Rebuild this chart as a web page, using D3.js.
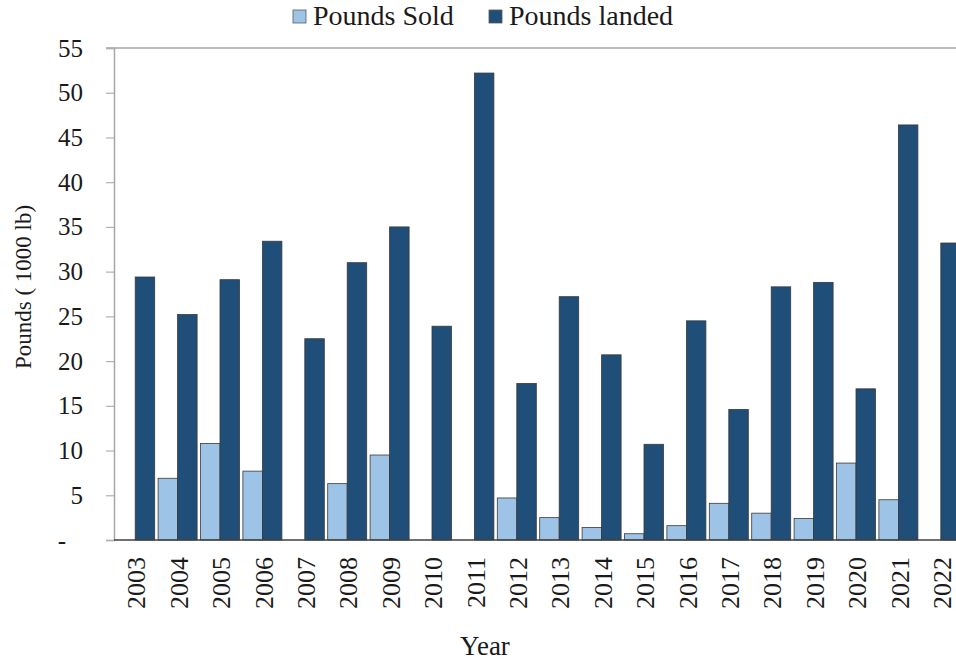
<!DOCTYPE html>
<html>
<head>
<meta charset="utf-8">
<script src="https://cdn.jsdelivr.net/npm/d3@7"></script>
<style>
  html, body { margin: 0; padding: 0; background: #fff; }
  svg { display: block; font-family: "Liberation Serif", "Times New Roman", serif; }
</style>
</head>
<body>
<svg id="chart" width="956" height="663"></svg>
<script>
// Annual pounds sold vs. pounds landed (thousands of lb)
const years = ["2003","2004","2005","2006","2007","2008","2009","2010","2011","2012",
               "2013","2014","2015","2016","2017","2018","2019","2020","2021","2022"];
const poundsSold   = [0, 6.9, 10.8, 7.7, 0, 6.3, 9.5, 0, 0, 4.7,
                      2.5, 1.4, 0.7, 1.6, 4.1, 3.0, 2.4, 8.6, 4.5, 0];
const poundsLanded = [29.4, 25.2, 29.1, 33.4, 22.5, 31.0, 35.0, 23.9, 52.2, 17.5,
                      27.2, 20.7, 10.7, 24.5, 14.6, 28.3, 28.8, 16.9, 46.4, 33.2];
const seriesNames  = ["Pounds Sold", "Pounds landed"];
const seriesColors = ["#9dc3e6", "#1f4e79"];
const yTicks = [0, 5, 10, 15, 20, 25, 30, 35, 40, 45, 50, 55];

const svg = d3.select("#chart");
const plot = { left: 114, top: 48, right: 962, bottom: 540 };

const x = d3.scaleBand()
  .domain(years)
  .range([plot.left, plot.right])
  .paddingInner(0.08)
  .paddingOuter(0.04);

const xSub = d3.scaleBand()
  .domain(seriesNames)
  .range([0, x.bandwidth()])
  .padding(0);

const y = d3.scaleLinear().domain([0, 55]).range([plot.bottom, plot.top]);

// plot frame (top edge)
svg.append("line")
  .attr("x1", plot.left - 8).attr("x2", 956)
  .attr("y1", y(55)).attr("y2", y(55))
  .attr("stroke", "#a6a6a6").attr("stroke-width", 1.5);

// y axis
const yAxis = svg.append("g")
  .attr("transform", `translate(${plot.left},0)`)
  .call(d3.axisLeft(y).tickValues(yTicks).tickSize(8).tickPadding(23)
    .tickFormat(d => d === 0 ? "-" : d));
yAxis.select(".domain").attr("stroke", "#a6a6a6").attr("stroke-width", 1.5);
yAxis.selectAll(".tick line").attr("stroke", "#b0b0b0").attr("stroke-width", 1.2);
yAxis.selectAll(".tick text")
  .attr("font-family", "Liberation Serif, serif")
  .attr("font-size", 25)
  .attr("fill", "#1a1a1a");
yAxis.selectAll(".tick").filter(d => d === 0).select("text").attr("dx", -17);

// bars
const data = years.map((yr, i) => ({ year: yr, values: [poundsSold[i], poundsLanded[i]] }));
const groups = svg.append("g").selectAll("g")
  .data(data).join("g")
  .attr("transform", d => `translate(${x(d.year)},0)`);

groups.selectAll("rect")
  .data(d => d.values.map((v, k) => ({ name: seriesNames[k], value: v, k })))
  .join("rect")
  .filter(d => d.value > 0)
  .attr("x", d => xSub(d.name))
  .attr("width", xSub.bandwidth())
  .attr("y", d => y(d.value))
  .attr("height", d => y(0) - y(d.value))
  .attr("fill", d => seriesColors[d.k])
  .attr("stroke", "#3a3a3a")
  .attr("stroke-width", 0.8);

// x baseline
svg.append("line")
  .attr("x1", plot.left).attr("x2", 956)
  .attr("y1", y(0)).attr("y2", y(0))
  .attr("stroke", "#404040").attr("stroke-width", 1.5);

// year labels, rotated
svg.append("g").selectAll("text")
  .data(years).join("text")
  .attr("transform", d => `translate(${x(d) + x.bandwidth() / 2 + 1},557) rotate(-90)`)
  .attr("text-anchor", "end")
  .attr("dy", "0.35em")
  .attr("font-size", 26)
  .attr("fill", "#1a1a1a")
  .text(d => d);

// axis titles
svg.append("text")
  .attr("x", 485).attr("y", 655)
  .attr("text-anchor", "middle")
  .attr("font-size", 27)
  .attr("fill", "#1a1a1a")
  .text("Year");

svg.append("text")
  .attr("transform", "translate(31,287) rotate(-90)")
  .attr("text-anchor", "middle")
  .attr("font-size", 23)
  .attr("fill", "#1a1a1a")
  .text("Pounds ( 1000 lb)");

// legend
const legendX = [293, 489];
const legend = svg.append("g").selectAll("g")
  .data(seriesNames).join("g")
  .attr("transform", (d, i) => `translate(${legendX[i]},10)`);
legend.append("rect")
  .attr("width", 13).attr("height", 13)
  .attr("fill", (d, i) => seriesColors[i])
  .attr("stroke", "#5a5a5a").attr("stroke-width", 0.8);
legend.append("text")
  .attr("x", 20).attr("y", 15)
  .attr("font-size", 28)
  .attr("fill", "#1a1a1a")
  .text(d => d);
</script>
</body>
</html>
